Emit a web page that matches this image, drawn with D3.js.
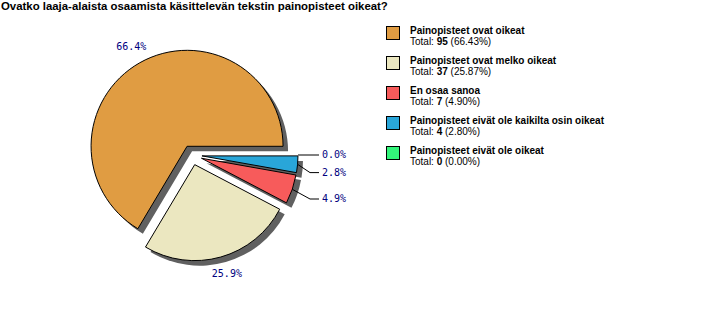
<!DOCTYPE html>
<html>
<head>
<meta charset="utf-8">
<script src="https://cdn.jsdelivr.net/npm/d3@7"></script>
<style>
  body { margin: 0; background: #fff; }
  svg { display: block; }
</style>
</head>
<body>
<script>
var title = "Ovatko laaja-alaista osaamista käsittelevän tekstin painopisteet oikeat?";
var categories = [
  "Painopisteet ovat oikeat",
  "Painopisteet ovat melko oikeat",
  "En osaa sanoa",
  "Painopisteet eivät ole kaikilta osin oikeat",
  "Painopisteet eivät ole oikeat"
];
var counts = [95, 37, 7, 4, 0];
var colors = ["#e09c42", "#ebe7c0", "#f75b5b", "#29a6d9", "#33f57a"];

var width = 724, height = 326;
var cx = 192, cy = 155, radius = 96, splice = 10;

var total = d3.sum(counts);

var svg = d3.select("body").append("svg")
  .attr("width", width)
  .attr("height", height)
  .style("font-family", "'Liberation Sans', Arial, sans-serif");

svg.append("rect").attr("width", width).attr("height", height).attr("fill", "#fff");

svg.append("text")
  .attr("x", 1).attr("y", 10)
  .attr("font-size", 11.4).attr("font-weight", "bold")
  .text(title);

// pie goes counterclockwise from 3 o'clock
var pie = d3.pie().sort(null).startAngle(Math.PI / 2).endAngle(Math.PI / 2 - 2 * Math.PI);
var arcs = pie(counts);
arcs.forEach(function(a, i) {
  a.i = i;
  var mid = (a.startAngle + a.endAngle) / 2;
  a.dx = Math.sin(mid);
  a.dy = -Math.cos(mid);
  a.ox = cx + splice * a.dx;
  a.oy = cy + splice * a.dy;
});

var arc = d3.arc().innerRadius(0).outerRadius(radius);

var drawn = arcs.filter(function(a) { return a.value > 0 });

// shadows
svg.append("g").selectAll("path")
  .data(drawn)
  .enter().append("path")
  .attr("transform", function(a) { return "translate(" + (a.ox + 5) + " " + (a.oy + 5) + ")" })
  .attr("d", arc)
  .attr("fill", "#606060");

svg.append("g").selectAll("path")
  .data(drawn)
  .enter().append("path")
  .attr("transform", function(a) { return "translate(" + a.ox + " " + a.oy + ")" })
  .attr("d", arc)
  .attr("fill", function(a) { return colors[a.i] })
  .attr("stroke", "#000")
  .attr("stroke-width", 1)
  .attr("stroke-linejoin", "miter");

// value labels
var labelColor = "#000080";
var lblFont = "'DejaVu Sans Mono', monospace";
var stacked = [], free = [];
arcs.forEach(function(a) {
  if (a.dx > 0.9) stacked.push(a); else free.push(a);
});

free.forEach(function(a) {
  svg.append("text")
    .attr("x", a.ox + (radius + 19) * a.dx + 1)
    .attr("y", a.oy + (radius + 18) * a.dy)
    .attr("text-anchor", "middle")
    .attr("dominant-baseline", "middle")
    .attr("font-family", lblFont)
    .attr("font-size", 10)
    .attr("fill", labelColor)
    .text(d3.format(".1f")(a.value / total * 100) + "%");
});

stacked.sort(function(a, b) { return a.dy - b.dy });
var lastY = -Infinity;
var elbowX = cx + radius + 22, textX = cx + radius + 34;
stacked.forEach(function(a) {
  var ax = a.ox + radius * a.dx, ay = a.oy + radius * a.dy;
  var ly = a.oy + (radius + 30) * a.dy;
  ly = Math.max(ly, lastY + 17.6);
  lastY = ly;
  svg.append("polyline")
    .attr("points", [[ax, ay], [elbowX, ly], [textX - 3, ly]].map(function(p) { return p.join(",") }).join(" "))
    .attr("fill", "none")
    .attr("stroke", "#000")
    .attr("stroke-width", 1);
  svg.append("text")
    .attr("x", textX)
    .attr("y", ly)
    .attr("dominant-baseline", "middle")
    .attr("font-family", lblFont)
    .attr("font-size", 10)
    .attr("fill", labelColor)
    .text(d3.format(".1f")(a.value / total * 100) + "%");
});

// legend
var legend = svg.append("g").attr("transform", "translate(386 26)");
var rows = legend.selectAll("g")
  .data(categories)
  .enter().append("g")
  .attr("transform", function(d, i) { return "translate(0 " + (i * 30) + ")" });

rows.append("rect")
  .attr("x", 0.5).attr("y", 0.5)
  .attr("width", 13).attr("height", 13)
  .attr("fill", function(d, i) { return colors[i] })
  .attr("stroke", "#000");

rows.append("text")
  .attr("x", 24).attr("y", 7.5)
  .attr("font-size", 10).attr("font-weight", "bold")
  .text(function(d) { return d });

var tot = rows.append("text")
  .attr("x", 24).attr("y", 18.5)
  .attr("font-size", 10);
tot.append("tspan").text("Total: ");
tot.append("tspan").attr("font-weight", "bold").text(function(d, i) { return counts[i] });
tot.append("tspan").text(function(d, i) { return " (" + d3.format(".2f")(counts[i] / total * 100) + "%)" });
</script>
</body>
</html>
